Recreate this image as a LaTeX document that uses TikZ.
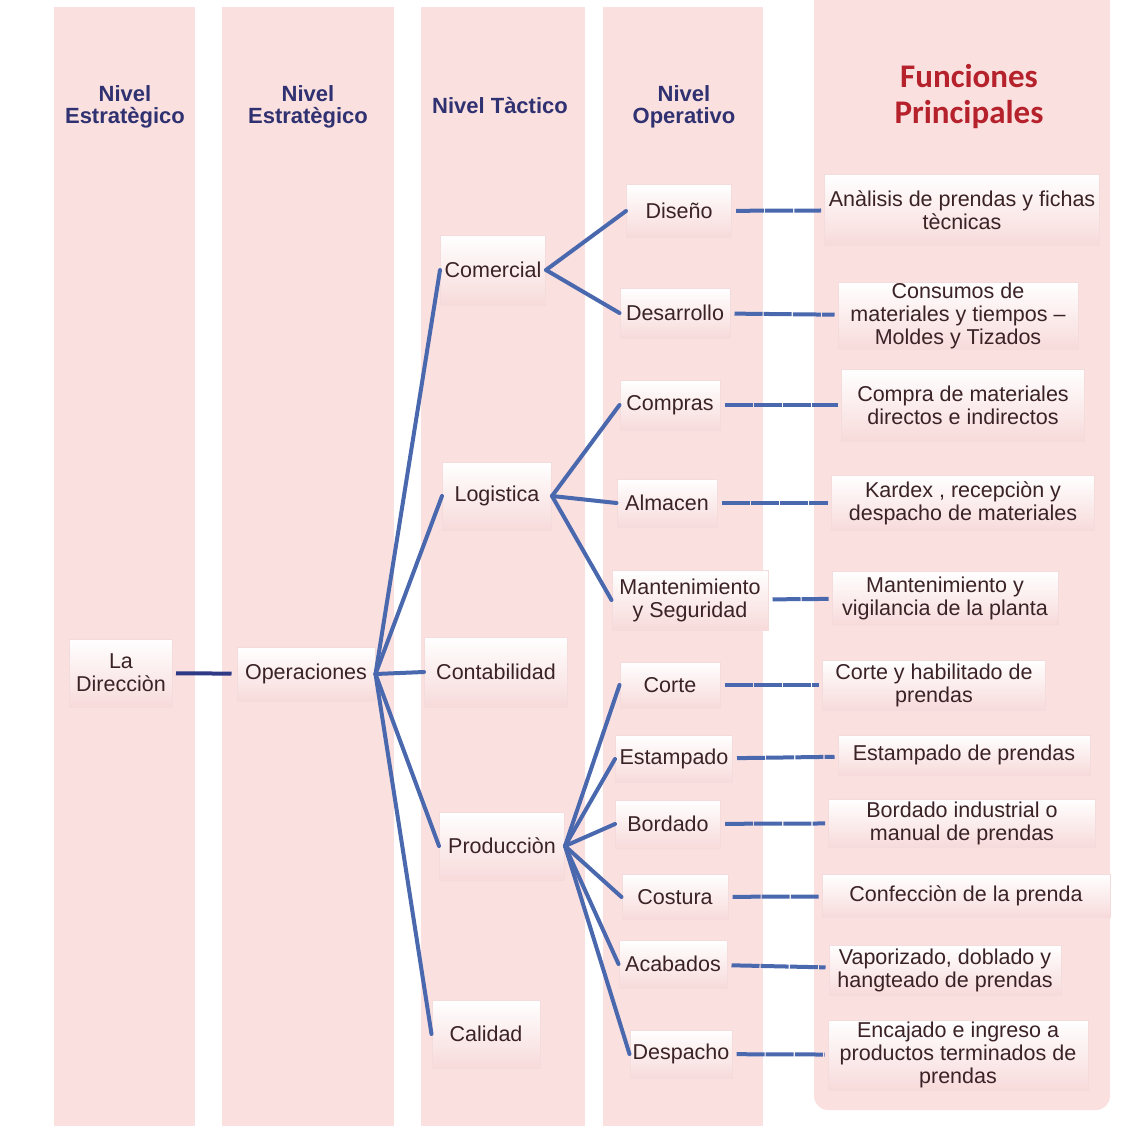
\documentclass[tikz,border=0pt]{standalone}
\usepackage{fontspec}
\setmainfont{Liberation Sans}
\newfontfamily\titulofont{Carlito}
\usepackage{tikz}
\definecolor{fondo}{HTML}{FBE0E0}
\definecolor{borde}{HTML}{F0CDCD}
\definecolor{texto}{HTML}{3A2226}
\definecolor{navy}{HTML}{2F3170}
\definecolor{rojo}{HTML}{B5222B}
\definecolor{azul}{HTML}{4A68AE}
\definecolor{azuloscuro}{HTML}{2E3A86}

\begin{document}
\begin{tikzpicture}[x=1pt,y=-1pt,
  every node/.style={font=\fontsize{21.5}{23}\selectfont,text=texto,align=center,inner sep=0pt},
  caja/.style 2 args={top color=white,bottom color=fondo!70!borde,draw=borde!70,line width=1pt,minimum width=#1pt,minimum height=#2pt},
  nivel/.style={font=\bfseries\fontsize{22}{22}\selectfont,text=navy},
  enlace/.style={draw=azul,line width=4pt,line cap=round},
  trazo/.style={draw=azul,line width=4pt,dash pattern=on 28pt off 1.2pt,shorten <=4pt,shorten >=3pt}]
  \useasboundingbox[fill=white] (0,0) rectangle (1124,1126);
  \begin{scope}
    \clip (0,0) rectangle (1124,1126);
    \fill[fondo] (54,7) rectangle (195,1140);
    \fill[fondo] (222,7) rectangle (394,1140);
    \fill[fondo] (421,7) rectangle (585,1140);
    \fill[fondo] (603,7) rectangle (763,1140);
    \fill[fondo,rounded corners=14pt] (814,-20) rectangle (1110,1110);
  \end{scope}

  \node[nivel] (est1) at (125,107) {Nivel\\Estratègico};
  \node[nivel] (est2) at (308,107) {Nivel\\Estratègico};
  \node[nivel] (tact) at (500,106) {Nivel Tàctico};
  \node[nivel] (oper) at (684,107) {Nivel\\Operativo};
  \node[font=\titulofont\bfseries\fontsize{33}{36}\selectfont,text=rojo] (func) at (969,97) {Funciones\\Principales};

  \node[caja={103}{68}] (dir) at (121,673) {La\\Direcciòn};
  \node[caja={138}{54}] (ops) at (306,674) {Operaciones};

  \node[caja={105}{70}] (com) at (493,270) {Comercial};
  \node[caja={109}{68}] (log) at (497,496) {Logistica};
  \node[caja={143}{70}] (cont) at (496,672) {Contabilidad};
  \node[caja={125}{68}] (prod) at (502,846) {Producciòn};
  \node[caja={108}{68}] (cal) at (486,1034) {Calidad};

  \node[caja={105}{52}] (dis) at (679,211) {Diseño};
  \node[caja={110}{50}] (des) at (675,313) {Desarrollo};
  \node[caja={100}{50}] (comp) at (670,405) {Compras};
  \node[caja={100}{48}] (alm) at (667,503) {Almacen};
  \node[caja={156}{60}] (mant) at (690,600) {Mantenimiento\\y Seguridad};
  \node[caja={100}{46}] (cort) at (670,685) {Corte};
  \node[caja={117}{47}] (estp) at (674,759) {Estampado};
  \node[caja={105}{48}] (bord) at (668,824) {Bordado};
  \node[caja={106}{45}] (cost) at (675,897) {Costura};
  \node[caja={108}{48}] (acab) at (673,964) {Acabados};
  \node[caja={102}{48}] (desp) at (681,1054) {Despacho};

  \node[caja={275}{70}] (f1) at (962,210) {Anàlisis de prendas y fichas\\tècnicas};
  \node[caja={240}{67}] (f2) at (958,316) {Consumos de\\materiales y tiempos –\\Moldes y Tizados};
  \node[caja={243}{72}] (f3) at (963,405) {Compra de materiales\\directos e indirectos};
  \node[caja={263}{55}] (f4) at (963,503) {Kardex , recepciòn y\\despacho de materiales};
  \node[caja={226}{53}] (f5) at (945,598) {Mantenimiento y\\vigilancia de la planta};
  \node[caja={223}{50}] (f6) at (934,685) {Corte y habilitado de\\prendas};
  \node[caja={252}{40}] (f7) at (964,755) {Estampado de prendas};
  \node[caja={267}{48}] (f8) at (962,823) {Bordado industrial o\\manual de prendas};
  \node[caja={288}{43}] (f9) at (966,896) {Confecciòn de la prenda};
  \node[caja={232}{50}] (f10) at (945,970) {Vaporizado, doblado y\\hangteado de prendas};
  \node[caja={260}{70}] (f11) at (958,1055) {Encajado e ingreso a\\productos terminados de\\prendas};

  \draw[azuloscuro,line width=4pt,shorten <=3pt,shorten >=5pt] (dir) -- (ops);

  \draw[enlace] (ops.east) -- (com.west); \draw[enlace] (ops.east) -- (log.west);
  \draw[enlace] (ops.east) -- (cont.west); \draw[enlace] (ops.east) -- (prod.west);
  \draw[enlace] (ops.east) -- (cal.west);

  \draw[enlace] (com.east) -- (dis.west); \draw[enlace] (com.east) -- (des.west);
  \draw[enlace] (log.east) -- (comp.west); \draw[enlace] (log.east) -- (alm.west);
  \draw[enlace] (log.east) -- (mant.west);
  \draw[enlace] (prod.east) -- (cort.west); \draw[enlace] (prod.east) -- (estp.west);
  \draw[enlace] (prod.east) -- (bord.west); \draw[enlace] (prod.east) -- (cost.west);
  \draw[enlace] (prod.east) -- (acab.west); \draw[enlace] (prod.east) -- (desp.west);

  \draw[trazo] (dis) -- (f1); \draw[trazo] (des) -- (f2);
  \draw[trazo] (comp) -- (f3); \draw[trazo] (alm) -- (f4);
  \draw[trazo] (mant) -- (f5); \draw[trazo] (cort) -- (f6);
  \draw[trazo] (estp) -- (f7); \draw[trazo] (bord) -- (f8);
  \draw[trazo] (cost) -- (f9); \draw[trazo] (acab) -- (f10);
  \draw[trazo] (desp) -- (f11);
\end{tikzpicture}
\end{document}
